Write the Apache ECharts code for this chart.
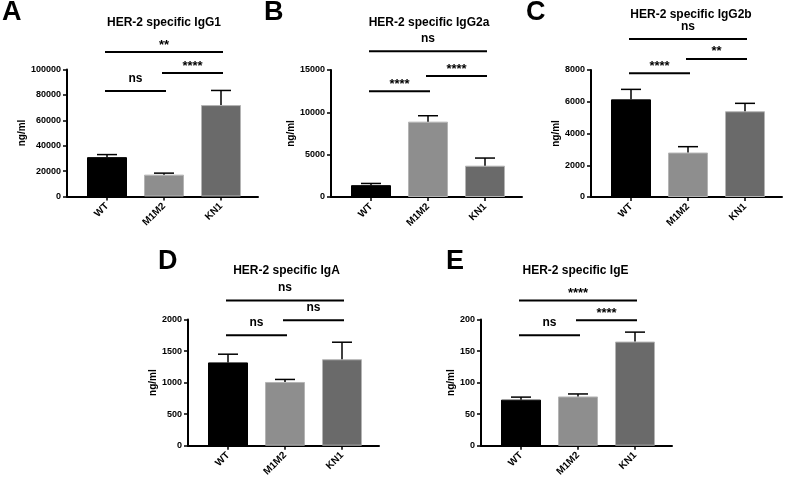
<!DOCTYPE html>
<html>
<head>
<meta charset="utf-8">
<script src="https://cdn.jsdelivr.net/npm/echarts@6/dist/echarts.min.js"></script>
<style>
  html, body { margin: 0; background: #fff; }
  #main { width: 787px; height: 479px; }
</style>
</head>
<body>
<div id="main"></div>
<script>
// groups and bar colours
var groups = ['WT', 'M1M2', 'KN1'];
var barColors = ['#000000', '#8e8e8e', '#6a6a6a'];

// means and SEM (ng/ml)
var igg1Mean = [31000, 17200, 72000];
var igg1Sem = [2000, 1200, 11500];
var igg2aMean = [1400, 8900, 3700];
var igg2aSem = [200, 700, 900];
var igg2bMean = [6150, 2800, 5400];
var igg2bSem = [630, 370, 500];
var igaMean = [1320, 1010, 1370];
var igaSem = [130, 40, 270];
var igeMean = [73, 78, 165];
var igeSem = [4, 4, 15];

// y axis ranges (tick labels come from max / step)
var axisMax = [100000, 15000, 8000, 2000, 200];
var axisStep = [20000, 5000, 2000, 500, 50];

// significance: [from group, to group, label, bracket level in ng/ml]
var igg1Sig = [[0, 1, 'ns', 83000], [1, 2, '****', 97200], [0, 2, '**', 113800]];
var igg2aSig = [[0, 1, '****', 12500], [1, 2, '****', 14300], [0, 2, 'ns', 17200]];
var igg2bSig = [[0, 1, '****', 7800], [1, 2, '**', 8700], [0, 2, 'ns', 9950]];
var igaSig = [[0, 1, 'ns', 1750], [1, 2, 'ns', 1990], [0, 2, 'ns', 2300]];
var igeSig = [[0, 1, 'ns', 175], [1, 2, '****', 199], [0, 2, '****', 230]];

var panels = [
  { letter: 'A', title: 'HER-2 specific IgG1', mean: igg1Mean, sem: igg1Sem, sig: igg1Sig },
  { letter: 'B', title: 'HER-2 specific IgG2a', mean: igg2aMean, sem: igg2aSem, sig: igg2aSig },
  { letter: 'C', title: 'HER-2 specific IgG2b', mean: igg2bMean, sem: igg2bSem, sig: igg2bSig },
  { letter: 'D', title: 'HER-2 specific IgA', mean: igaMean, sem: igaSem, sig: igaSig },
  { letter: 'E', title: 'HER-2 specific IgE', mean: igeMean, sem: igeSem, sig: igeSig }
];

// page layout for each panel
var layout = [
  { lx: 2, ly: 13, left: 67, top: 69.5, tx: 164, ty: 23, gap: 36 },
  { lx: 264, ly: 13, left: 331, top: 70, tx: 429, ty: 23, gap: 32 },
  { lx: 526, ly: 13, left: 591, top: 70, tx: 691, ty: 15, gap: 27 },
  { lx: 158, ly: 262.5, left: 188, top: 319.5, tx: 286.5, ty: 270.5, gap: 24 },
  { lx: 446, ly: 262.5, left: 481, top: 319.5, tx: 575.5, ty: 270.5, gap: 24 }
];

var FONT = '"Liberation Sans", Arial, sans-serif';
var grids = [], xAxes = [], yAxes = [], series = [], graphics = [];

panels.forEach(function (p, k) {
  var L = layout[k];
  grids.push({ left: L.left, top: L.top, width: 191, height: 127 });

  xAxes.push({
    type: 'value', gridIndex: k, min: -40 / 57, max: 2 + 37 / 57,
    splitLine: { show: false },
    axisLine: { onZero: false, lineStyle: { color: '#000', width: 2 } },
    axisTick: { customValues: [0, 1, 2], length: 4, lineStyle: { color: '#000', width: 1.5 } },
    axisLabel: {
      customValues: [0, 1, 2], rotate: 45, margin: 8,
      color: '#000', fontSize: 10, fontWeight: 'bold', fontFamily: FONT,
      formatter: function (v) { return groups[Math.round(v)]; }
    }
  });

  yAxes.push({
    type: 'value', gridIndex: k, min: 0, max: axisMax[k], interval: axisStep[k],
    name: 'ng/ml', nameLocation: 'middle', nameGap: L.gap,
    nameTextStyle: { color: '#000', fontSize: 10, fontWeight: 'bold', fontFamily: FONT },
    splitLine: { show: false },
    axisLine: { show: true, onZero: false, lineStyle: { color: '#000', width: 2 } },
    axisTick: { show: true, length: 4, lineStyle: { color: '#000', width: 1.5 } },
    axisLabel: {
      margin: 6, color: '#000', fontSize: 9, fontWeight: 'bold', fontFamily: FONT,
      formatter: function (v) { return String(v); }
    }
  });

  series.push({
    type: 'bar', xAxisIndex: k, yAxisIndex: k, barWidth: 40,
    data: p.mean.map(function (m, i) {
      return {
        value: [i, m],
        itemStyle: { color: barColors[i], borderColor: i ? '#b4b4b4' : '#000', borderWidth: 1 }
      };
    })
  });

  series.push({
    type: 'custom', xAxisIndex: k, yAxisIndex: k, z: 3, clip: false,
    encode: { x: 0, y: [1, 2] },
    data: p.mean.map(function (m, i) { return [i, m, m + p.sem[i]]; }),
    renderItem: function (params, api) {
      var x = api.value(0);
      var lo = api.coord([x, api.value(1)]);
      var hi = api.coord([x, api.value(2)]);
      var st = { stroke: '#000', lineWidth: 1.5 };
      return {
        type: 'group', children: [
          { type: 'line', shape: { x1: lo[0], y1: lo[1], x2: hi[0], y2: hi[1] }, style: st },
          { type: 'line', shape: { x1: hi[0] - 10, y1: hi[1], x2: hi[0] + 10, y2: hi[1] }, style: st }
        ]
      };
    }
  });

  series.push({
    type: 'custom', xAxisIndex: k, yAxisIndex: k, z: 3, clip: false,
    encode: { x: [0, 1], y: 2 },
    data: p.sig.map(function (s) { return [s[0], s[1], s[3]]; }),
    renderItem: function (params, api) {
      var s = p.sig[params.dataIndex];
      var a = api.coord([api.value(0), api.value(2)]);
      var b = api.coord([api.value(1), api.value(2)]);
      var stars = s[2] !== 'ns';
      return {
        type: 'group', children: [
          { type: 'line', shape: { x1: a[0] - 2, y1: a[1], x2: b[0] + 2, y2: b[1] },
            style: { stroke: '#000', lineWidth: 2 } },
          { type: 'text', style: {
              text: s[2], x: (a[0] + b[0]) / 2, y: a[1] - (stars ? 7 : 12.5),
              align: 'center', verticalAlign: 'middle', fill: '#000',
              font: 'bold ' + (stars ? 13 : 12) + 'px ' + FONT } }
        ]
      };
    }
  });

  graphics.push({
    type: 'text', left: L.lx, top: L.ly - 14,
    style: { text: p.letter, fill: '#000', font: 'bold 27px ' + FONT }
  });
  graphics.push({
    type: 'text', x: L.tx, y: L.ty,
    style: { text: p.title, fill: '#000', align: 'center', verticalAlign: 'middle',
             font: 'bold 12px ' + FONT }
  });
});

var chart = echarts.init(document.getElementById('main'));
chart.setOption({
  animation: false,
  backgroundColor: '#fff',
  grid: grids,
  xAxis: xAxes,
  yAxis: yAxes,
  series: series,
  graphic: graphics
});
</script>
</body>
</html>
